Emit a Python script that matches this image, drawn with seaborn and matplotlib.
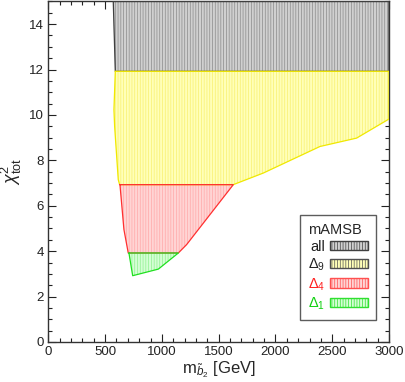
import matplotlib
matplotlib.use("Agg")
import matplotlib.pyplot as plt
import seaborn as sns
from matplotlib.patches import Patch
from matplotlib.ticker import MultipleLocator

# Region boundaries (m_b2 [GeV], chi2_tot)
all_x = [572, 3000, 3000, 590]
all_y = [15.0, 15.0, 11.92, 11.92]

d9_x = [590, 3000, 3000, 2715, 2392, 1893, 1629, 628, 616, 584, 578]
d9_y = [11.92, 11.92, 9.82, 8.98, 8.61, 7.44, 6.93, 6.93, 7.15, 9.5, 10.23]

d4_x = [631, 1629, 1218, 1145, 704, 666]
d4_y = [6.93, 6.93, 4.29, 3.92, 3.92, 4.95]

d1_x = [710, 1145, 969, 743]
d1_y = [3.92, 3.92, 3.21, 2.92]

legend_labels = ["all", r"$\Delta_9$", r"$\Delta_4$", r"$\Delta_1$"]
legend_title = "mAMSB"

sns.set_style("ticks")
plt.rcParams['font.family'] = ['Liberation Sans', 'DejaVu Sans']
plt.rcParams['mathtext.fontset'] = 'custom'
plt.rcParams['mathtext.rm'] = 'Liberation Sans'
plt.rcParams['mathtext.it'] = 'Liberation Sans:italic'
plt.rcParams['hatch.linewidth'] = 0.5

fig = plt.figure(figsize=(4.05, 3.82), dpi=100)
ax = fig.add_axes([48.3 / 405, 40 / 382, 340.7 / 405, 340.6 / 382])

styles = [
    (all_x, all_y, "#d0d0d0", "#8a8a8a", "#404040"),
    (d9_x, d9_y, "#ffffb8", "#f8f070", "#f0e800"),
    (d4_x, d4_y, "#ffd4d4", "#ffa8a8", "#ff3030"),
    (d1_x, d1_y, "#d4ffd4", "#90f090", "#20e020"),
]
for xs, ys, fc, hc, lc in styles:
    ax.fill(xs, ys, facecolor=fc, edgecolor="none", zorder=1)
    ax.fill(xs, ys, facecolor="none", edgecolor=hc, hatch="||||||", linewidth=0, zorder=2)
    ax.plot(list(xs) + [xs[0]], list(ys) + [ys[0]], color=lc, lw=0.9, zorder=3)

ax.set_xlim(0, 3000)
ax.set_ylim(0, 15)
ax.xaxis.set_major_locator(MultipleLocator(500))
ax.xaxis.set_minor_locator(MultipleLocator(100))
ax.yaxis.set_major_locator(MultipleLocator(2))
ax.yaxis.set_minor_locator(MultipleLocator(0.5))
ax.tick_params(which="both", direction="in", top=True, right=True, labelsize=9.5,
               colors="#222222", pad=3)
ax.tick_params(which="major", length=6, width=0.8)
ax.tick_params(which="minor", length=3, width=0.8)
for s in ax.spines.values():
    s.set_color("#333333")
    s.set_linewidth(1.0)

ax.set_xlabel(r"m$_{\tilde{b}_2}$ [GeV]", fontsize=12, labelpad=1)
ax.set_ylabel(r"$\chi^2_{\rm tot}$", fontsize=13, labelpad=4)

handles = [
    Patch(facecolor="#d0d0d0", edgecolor="#404040", hatch="||||||", lw=1),
    Patch(facecolor="#ffffb8", edgecolor="#505050", hatch="||||||", lw=1),
    Patch(facecolor="#ffd4d4", edgecolor="#ff5050", hatch="||||||", lw=1),
    Patch(facecolor="#d4ffd4", edgecolor="#30e030", hatch="||||||", lw=1),
]
leg = ax.legend(handles, legend_labels, title=legend_title, loc="lower right",
                bbox_to_anchor=(0.963, 0.065), frameon=True, fancybox=False,
                fontsize=10.5, title_fontsize=10.5, handlelength=2.6, handleheight=0.6,
                handletextpad=0.35, borderpad=0.55, labelspacing=0.2,
                markerfirst=False, alignment="left", borderaxespad=0)
leg.get_frame().set_edgecolor("#333333")
leg.get_frame().set_linewidth(1.0)
for t, c in zip(leg.get_texts(), ["#222222", "#222222", "#ff2020", "#10d010"]):
    t.set_color(c)

fig.savefig("out.png", dpi=100)
